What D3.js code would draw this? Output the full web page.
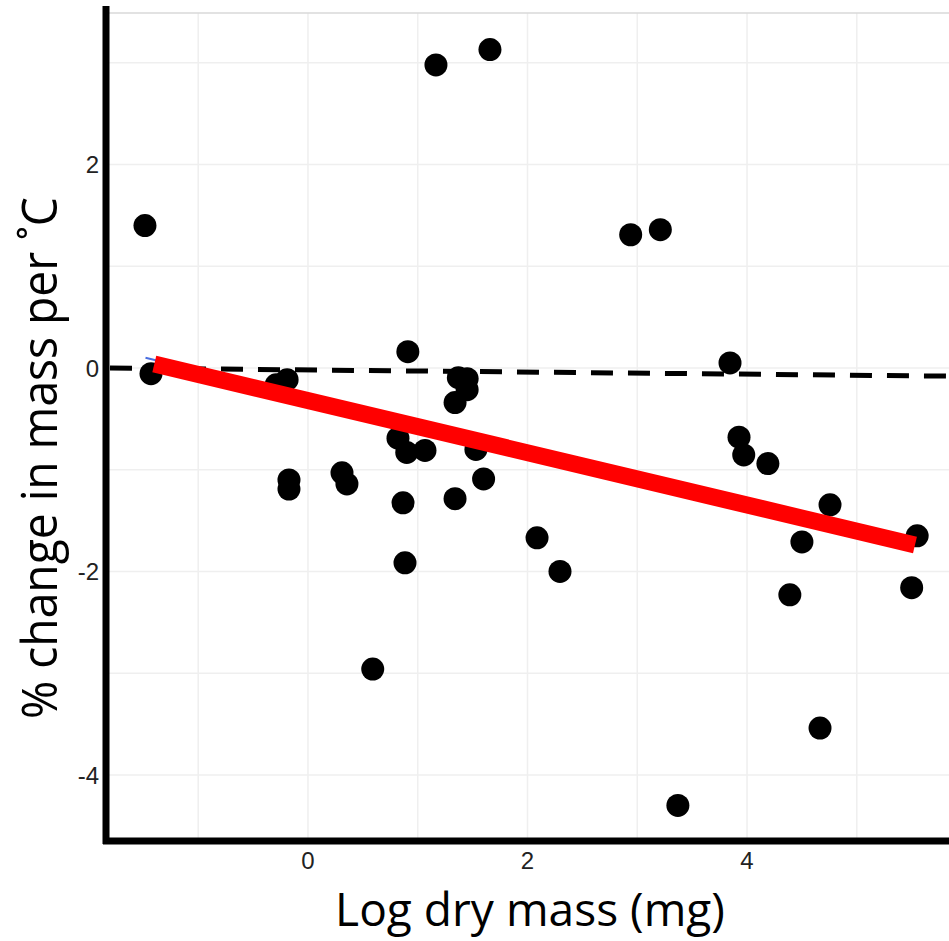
<!DOCTYPE html>
<html>
<head>
<meta charset="utf-8">
<script src="https://cdn.jsdelivr.net/npm/d3@7"></script>
<style>
  html, body { margin: 0; padding: 0; background: #fff; }
  svg { display: block; }
</style>
</head>
<body>
<div id="chart"></div>
<script>
// ---- Data ----
const logMass = [-1.485, -1.43, -0.29, -0.19, -0.173, -0.173, 0.31, 0.355, 0.59, 0.82, 0.90, 1.066, 0.91,
  1.37, 1.45, 1.45, 1.34, 1.53, 1.60, 0.866, 1.34, 2.087, 0.884, 2.296, 1.166, 1.658, 2.94, 3.21,
  3.845, 3.927, 3.97, 4.19, 4.756, 4.50, 5.55, 4.39, 5.50, 4.665, 3.37];
const pctChange = [1.40, -0.056, -0.165, -0.115, -1.10, -1.19, -1.03, -1.14, -2.96, -0.69, -0.83, -0.81, 0.16,
  -0.095, -0.105, -0.213, -0.34, -0.80, -1.09, -1.325, -1.285, -1.67, -1.915, -2.00, 2.98, 3.13, 1.31, 1.36,
  0.05, -0.68, -0.855, -0.94, -1.345, -1.71, -1.65, -2.23, -2.16, -3.54, -4.30];
const fitX = [-1.40, 5.53];
const fitY = [0.04, -1.74];
const blueX = [-1.48, 5.53];
const blueY = [0.10, -1.74];
const refX = [-1.84, 5.84];
const refY = [0.0, -0.08];
const xTicks = [0, 2, 4];
const yTicks = [2, 0, -2, -4];
const gridX = [-1, 0, 1, 2, 3, 4, 5];
const gridY = [3, 2, 1, 0, -1, -2, -3, -4];
const xTitle = "Log dry mass (mg)";
const yTitle = "% change in mass per ˚C";

// ---- Layout ----
const W = 949, H = 941;
const svg = d3.select("#chart").append("svg").attr("width", W).attr("height", H);

const x = d3.scaleLinear().domain([-1.84, 5.84]).range([106, 949]);
const y = d3.scaleLinear().domain([3.49, -4.65]).range([13, 841]);

// grid
svg.append("g").selectAll("line").data(gridX).join("line")
  .attr("x1", d => x(d)).attr("x2", d => x(d))
  .attr("y1", y(3.49)).attr("y2", y(-4.65))
  .attr("stroke", "#efefef").attr("stroke-width", 1.5);
svg.append("g").selectAll("line").data(gridY).join("line")
  .attr("x1", x(-1.84)).attr("x2", x(5.84))
  .attr("y1", d => y(d)).attr("y2", d => y(d))
  .attr("stroke", "#efefef").attr("stroke-width", 1.5);

// top boundary line
svg.append("line")
  .attr("x1", x(-1.84)).attr("x2", W)
  .attr("y1", y(3.49)).attr("y2", y(3.49))
  .attr("stroke", "#d9d9d9").attr("stroke-width", 1.6);

// dashed reference line
svg.append("line")
  .attr("x1", x(refX[0])).attr("y1", y(refY[0]))
  .attr("x2", x(refX[1])).attr("y2", y(refY[1]))
  .attr("stroke", "#000").attr("stroke-width", 5)
  .attr("stroke-dasharray", "22 15").attr("stroke-dashoffset", -4);

// faint blue fit line (mostly hidden)
svg.append("line")
  .attr("x1", x(blueX[0])).attr("y1", y(blueY[0]))
  .attr("x2", x(blueX[1])).attr("y2", y(blueY[1]))
  .attr("stroke", "#4a6ee0").attr("stroke-width", 2);

// points
const pts = logMass.map((v, i) => ({x: v, y: pctChange[i]}));
svg.append("g").selectAll("circle").data(pts).join("circle")
  .attr("cx", d => x(d.x)).attr("cy", d => y(d.y))
  .attr("r", 11.5).attr("fill", "#000");

// red fit line
svg.append("line")
  .attr("x1", x(fitX[0])).attr("y1", y(fitY[0]))
  .attr("x2", x(fitX[1])).attr("y2", y(fitY[1]))
  .attr("stroke", "#ff0000").attr("stroke-width", 17);

// axes lines (thick black)
svg.append("line").attr("x1", 106).attr("x2", 106).attr("y1", 6).attr("y2", 844)
  .attr("stroke", "#000").attr("stroke-width", 7);
svg.append("line").attr("x1", 103).attr("x2", W).attr("y1", 841).attr("y2", 841)
  .attr("stroke", "#000").attr("stroke-width", 7);

// tick labels
const tickFont = "'Liberation Sans', Arial, sans-serif";
svg.append("g").selectAll("text").data(yTicks).join("text")
  .attr("x", 99).attr("y", d => y(d)).attr("dy", "0.36em")
  .attr("text-anchor", "end")
  .style("font-family", tickFont).style("font-size", "24px").attr("fill", "#222")
  .text(d => d < 0 ? "-" + Math.abs(d) : d);
svg.append("g").selectAll("text").data(xTicks).join("text")
  .attr("x", d => x(d)).attr("y", 869)
  .attr("text-anchor", "middle")
  .style("font-family", tickFont).style("font-size", "24px").attr("fill", "#222")
  .text(d => d);

// axis titles (narrow, tall glyphs like the reference)
const titleFont = "'Liberation Sans Narrow', 'Open Sans', 'Noto Sans', sans-serif";
const xg = svg.append("g");
const xt = xg.append("text").attr("text-anchor", "middle")
  .style("font-family", titleFont).style("font-size", "46px").attr("fill", "#000")
  .text(xTitle);
const yg = svg.append("g");
const yt = yg.append("text").attr("text-anchor", "middle")
  .style("font-family", titleFont).style("font-size", "50px").attr("fill", "#000")
  .text(yTitle);
const sx = 390 / xt.node().getComputedTextLength();
xg.attr("transform", `translate(530,926) scale(${sx},1)`);
const sy = 522 / yt.node().getComputedTextLength();
yg.attr("transform", `translate(57,458) rotate(-90) scale(${sy},1)`);
</script>
</body>
</html>
